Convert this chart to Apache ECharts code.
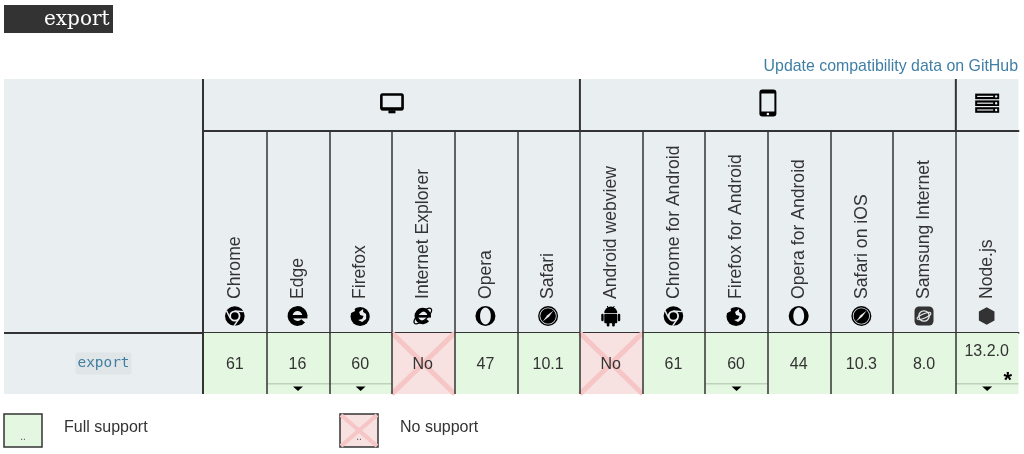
<!DOCTYPE html>
<html>
<head>
<meta charset="utf-8">
<style>html,body{margin:0;padding:0;background:#fff}#main{width:1024px;height:454px}</style>
<script src="https://cdn.jsdelivr.net/npm/echarts@6/dist/echarts.min.js"></script>
</head>
<body>
<div id="main"></div>
<script>
let browsers = ['Chrome', 'Edge', 'Firefox', 'Internet Explorer', 'Opera', 'Safari',
    'Android webview', 'Chrome for Android', 'Firefox for Android', 'Opera for Android',
    'Safari on iOS', 'Samsung Internet', 'Node.js'];
let browserIcons = ['chrome', 'edge', 'firefox', 'ie', 'opera', 'safari',
    'android', 'chrome', 'firefox', 'opera', 'safari', 'samsung', 'node'];
let versions = ['61', '16', '60', 'No', '47', '10.1', 'No', '61', '60', '44', '10.3', '8.0', '13.2.0'];
let hasDetails = [0, 1, 1, 0, 0, 0, 0, 0, 1, 0, 0, 0, 1];
let hasNote = [0, 0, 0, 0, 0, 0, 0, 0, 0, 0, 0, 0, 1];
let platformStart = [0, 6, 12];
let platformEnd = [6, 12, 13];
let platformIcons = ['desktop', 'phone', 'server'];
let featureName = ['export'];
let legendTexts = ['Full support', 'No support'];

let FONT = '"Liberation Sans", Arial, sans-serif';
let INK = '#000';
let LINE = '#333';
let HEAD_BG = '#e9eef1';
let GREEN = '#e4f8e1';
let RED = '#f8e1e1';
let CROSS = '#f6c5c5';

function eShape(r, lw, bar) {
    return [
        {type: 'arc', shape: {cx: 0, cy: 0, r: r, startAngle: 0.7, endAngle: Math.PI * 2, clockwise: true},
            style: {stroke: INK, fill: null, lineWidth: lw}},
        {type: 'rect', shape: {x: -r, y: -1, width: r * 2 + lw / 2, height: bar}, style: {fill: INK}}
    ];
}

function makeIcon(name) {
    let c = [];
    let fill = function (col) { return {fill: col}; };
    let lineSt = function (w) { return {stroke: HEAD_BG, fill: null, lineWidth: w}; };
    if (name === 'chrome') {
        c.push({type: 'circle', shape: {cx: 0, cy: 0, r: 9.8}, style: fill(INK)});
        c.push({type: 'ring', shape: {cx: 0, cy: 0, r: 5.6, r0: 3.8}, style: fill(HEAD_BG)});
        c.push({type: 'line', shape: {x1: 0, y1: -5, x2: 9, y2: -4.4}, style: lineSt(1.4)});
        c.push({type: 'line', shape: {x1: 4.6, y1: 2.2, x2: -0.8, y2: 9.8}, style: lineSt(1.4)});
        c.push({type: 'line', shape: {x1: -4.6, y1: 2.2, x2: -8.4, y2: -5.4}, style: lineSt(1.4)});
    } else if (name === 'edge') {
        c = eShape(7.4, 5, 3.4);
    } else if (name === 'firefox') {
        c.push({type: 'circle', shape: {cx: 0, cy: 0.5, r: 9.6}, style: fill(INK)});
        c.push({type: 'polygon', shape: {points: [[-1, -4], [3, -7], [3, -4], [6, -2], [6, 3], [2, 6], [-2, 4], [2, 3], [3.5, 0], [0, -1]]}, style: fill(HEAD_BG)});
        c.push({type: 'polygon', shape: {points: [[-10, -9], [-6, -9], [-5, -5], [-9, -3]]}, style: fill(HEAD_BG)});
    } else if (name === 'ie') {
        c = eShape(6.4, 3.6, 2.6);
        c.push({type: 'ellipse', shape: {cx: 0, cy: 0, rx: 11, ry: 4.2}, rotation: 0.7,
            style: {stroke: INK, fill: null, lineWidth: 1.2}});
    } else if (name === 'opera') {
        c.push({type: 'circle', shape: {cx: 0, cy: 0, r: 10}, style: fill(INK)});
        c.push({type: 'ellipse', shape: {cx: 0, cy: 0, rx: 5.4, ry: 8.4}, style: fill(HEAD_BG)});
    } else if (name === 'safari') {
        c.push({type: 'circle', shape: {cx: 0, cy: 0, r: 10}, style: fill(INK)});
        c.push({type: 'ring', shape: {cx: 0, cy: 0, r: 8.6, r0: 7.8}, style: fill(HEAD_BG)});
        c.push({type: 'polygon', shape: {points: [[5.4, -5.4], [0.8, 0.8], [-5.4, 5.4], [-0.8, -0.8]]}, style: fill(HEAD_BG)});
    } else if (name === 'android') {
        c.push({type: 'sector', shape: {cx: 0, cy: -3, r: 6.5, r0: 0, startAngle: Math.PI, endAngle: Math.PI * 2}, style: fill(INK)});
        c.push({type: 'line', shape: {x1: -3.5, y1: -10, x2: -2, y2: -7}, style: {stroke: INK, lineWidth: 1}});
        c.push({type: 'line', shape: {x1: 3.5, y1: -10, x2: 2, y2: -7}, style: {stroke: INK, lineWidth: 1}});
        c.push({type: 'rect', shape: {x: -6.5, y: -2.2, width: 13, height: 9.5, r: 1}, style: fill(INK)});
        c.push({type: 'rect', shape: {x: -9.5, y: -2.2, width: 2.4, height: 7.5, r: 1.2}, style: fill(INK)});
        c.push({type: 'rect', shape: {x: 7.1, y: -2.2, width: 2.4, height: 7.5, r: 1.2}, style: fill(INK)});
        c.push({type: 'rect', shape: {x: -4, y: 6, width: 2.6, height: 4.5, r: 1.2}, style: fill(INK)});
        c.push({type: 'rect', shape: {x: 1.4, y: 6, width: 2.6, height: 4.5, r: 1.2}, style: fill(INK)});
    } else if (name === 'samsung') {
        c.push({type: 'rect', shape: {x: -9.5, y: -9.5, width: 19, height: 19, r: 4.5}, style: fill('#333')});
        c.push({type: 'circle', shape: {cx: 0, cy: 0, r: 5.2}, style: {stroke: HEAD_BG, fill: null, lineWidth: 1.3}});
        c.push({type: 'ellipse', shape: {cx: 0, cy: 0, rx: 7.4, ry: 2.2}, rotation: 0.4, style: {stroke: HEAD_BG, fill: null, lineWidth: 1.1}});
    } else if (name === 'node') {
        c.push({type: 'polygon', shape: {points: [[0, -8.8], [7.8, -4.4], [7.8, 4.4], [0, 8.8], [-7.8, 4.4], [-7.8, -4.4]]}, style: fill('#333')});
    } else if (name === 'desktop') {
        c.push({type: 'rect', shape: {x: -10.6, y: -8.5, width: 21.2, height: 14.6, r: 1.2}, style: {stroke: INK, fill: null, lineWidth: 2.6}});
        c.push({type: 'rect', shape: {x: -11, y: 4.3, width: 22, height: 3}, style: fill(INK)});
        c.push({type: 'rect', shape: {x: -3.5, y: 7.3, width: 7, height: 3}, style: fill(INK)});
    } else if (name === 'phone') {
        c.push({type: 'rect', shape: {x: -8.5, y: -13.5, width: 17, height: 27, r: 3}, style: fill(INK)});
        c.push({type: 'rect', shape: {x: -6.5, y: -9.5, width: 13, height: 18}, style: fill(HEAD_BG)});
        c.push({type: 'circle', shape: {cx: 0, cy: 11, r: 1.3}, style: fill(HEAD_BG)});
    } else if (name === 'server') {
        [-9.4, -2.6, 4.2].forEach(function (y) {
            c.push({type: 'rect', shape: {x: -12, y: y, width: 24, height: 5.6}, style: fill(INK)});
            c.push({type: 'rect', shape: {x: -10, y: y + 2.2, width: 16, height: 1.2}, style: fill(HEAD_BG)});
            c.push({type: 'circle', shape: {cx: 9, cy: y + 2.8, r: 1.2}, style: fill(HEAD_BG)});
        });
    }
    return c;
}

function renderPlatform(params, api) {
    let i = params.dataIndex;
    let start = api.coord([api.value(0), 0]);
    let end = api.coord([api.value(1), 0]);
    let children = [{type: 'group', x: (start[0] + end[0]) / 2, y: 103, children: makeIcon(platformIcons[i])}];
    if (i > 0) {
        children.push({type: 'line', shape: {x1: start[0], y1: 79, x2: start[0], y2: 131}, style: {stroke: LINE, lineWidth: 2}});
    }
    return {type: 'group', children: children};
}

function renderIcon(params, api) {
    let p = api.coord([api.value(0), 0]);
    let h = api.size([0, 1])[1];
    return {type: 'group', x: p[0] - 0.5, y: p[1] + h / 2 - 17, children: makeIcon(browserIcons[params.dataIndex])};
}

function renderCell(params, api) {
    let i = params.dataIndex;
    let p = api.coord([api.value(0), 0]);
    let size = api.size([1, 1]);
    let x0 = p[0] - size[0] / 2;
    let y0 = p[1] - size[1] / 2;
    let isNo = versions[i] === 'No';
    let children = [{type: 'rect', shape: {x: x0, y: y0, width: size[0], height: size[1]}, style: {fill: isNo ? RED : GREEN}}];
    if (isNo) {
        children.push({type: 'line', shape: {x1: x0, y1: y0, x2: x0 + size[0], y2: y0 + size[1]}, style: {stroke: CROSS, lineWidth: 5}});
        children.push({type: 'line', shape: {x1: x0, y1: y0 + size[1], x2: x0 + size[0], y2: y0}, style: {stroke: CROSS, lineWidth: 5}});
    }
    if (hasDetails[i]) {
        children.push({type: 'rect', shape: {x: x0, y: y0 + 50, width: size[0], height: 1.5}, style: {fill: '#bcd3b8'}});
        children.push({type: 'polygon', shape: {points: [[p[0] - 5, y0 + 53.5], [p[0] + 5, y0 + 53.5], [p[0], y0 + 58]]}, style: {fill: INK}});
    }
    children.push({type: 'text', x: p[0] - 0.5, y: y0 + (hasNote[i] ? 18.5 : 31.5),
        style: {text: versions[i], fill: LINE, font: '16px ' + FONT, textAlign: 'center', textVerticalAlign: 'middle'}});
    if (hasNote[i]) {
        children.push({type: 'text', x: p[0] + 20.5, y: y0 + 47.5,
            style: {text: '*', fill: INK, font: 'bold 22px "Liberation Sans"', textAlign: 'center', textVerticalAlign: 'middle'}});
    }
    return {type: 'group', children: children};
}

function legendItem(x, isNo, label) {
    let items = [{type: 'rect', shape: {x: x, y: 414, width: 38, height: 33}, style: {fill: isNo ? RED : GREEN, stroke: LINE, lineWidth: 1.5}, z: 5}];
    if (isNo) {
        items.push({type: 'line', shape: {x1: x + 1, y1: 415, x2: x + 37, y2: 446}, style: {stroke: CROSS, lineWidth: 4}, z: 6});
        items.push({type: 'line', shape: {x1: x + 1, y1: 446, x2: x + 37, y2: 415}, style: {stroke: CROSS, lineWidth: 4}, z: 6});
    }
    items.push({type: 'text', x: x + 19, y: 437, style: {text: '..', fill: '#555', font: '10px ' + FONT, textAlign: 'center', textVerticalAlign: 'middle'}, z: 7});
    items.push({type: 'text', x: x + 60, y: 427.5, style: {text: label, fill: LINE, font: '16px ' + FONT, textVerticalAlign: 'middle'}, z: 7});
    return items;
}

let gridLeft = 204;
let gridWidth = 814.5;

let option = {
    animation: false,
    backgroundColor: '#fff',
    textStyle: {fontFamily: FONT},
    grid: [
        {left: gridLeft, width: gridWidth, top: 79, height: 52, show: true, backgroundColor: HEAD_BG, borderWidth: 0},
        {left: gridLeft, width: gridWidth, top: 131, height: 202, show: true, backgroundColor: HEAD_BG, borderWidth: 0},
        {left: gridLeft, width: gridWidth, top: 333, height: 61, show: false}
    ],
    xAxis: [
        {type: 'value', gridIndex: 0, min: 0, max: 13, axisLabel: {show: false}, axisTick: {show: false},
            splitLine: {show: false}, axisLine: {show: true, onZero: false, lineStyle: {color: LINE, width: 2}}},
        {type: 'category', gridIndex: 1, data: browsers, axisTick: {show: false},
            axisLine: {show: true, onZero: false, lineStyle: {color: LINE, width: 2}},
            splitLine: {show: true, showMinLine: false, showMaxLine: false, interval: 0, lineStyle: {color: LINE, width: 1.5}},
            axisLabel: {interval: 0, rotate: 90, inside: true, margin: 34, fontSize: 17.6, color: LINE, fontFamily: FONT, hideOverlap: false}},
        {type: 'category', gridIndex: 2, data: browsers, z: 4, axisTick: {show: false}, axisLine: {show: false}, axisLabel: {show: false},
            splitLine: {show: true, showMinLine: false, showMaxLine: false, interval: 0, lineStyle: {color: LINE, width: 1.5}}}
    ],
    yAxis: [
        {type: 'category', gridIndex: 0, data: ['platforms'], show: false},
        {type: 'category', gridIndex: 1, data: ['browsers'], show: false},
        {type: 'category', gridIndex: 2, data: featureName, axisLine: {show: false}, axisTick: {show: false},
            axisLabel: {margin: 72.5, color: '#3f7fa0', fontSize: 14.4, lineHeight: 20, fontFamily: '"DejaVu Sans Mono", monospace',
                backgroundColor: '#e0e5e8', padding: [2, 2, 0, 2], borderRadius: 2}}
    ],
    graphic: [
        {type: 'rect', shape: {x: 4, y: 5, width: 109, height: 28}, style: {fill: '#333'}, z: 5},
        {type: 'text', x: 44, y: 20, style: {text: 'export', fill: '#fff', font: '20px "DejaVu Serif", serif', textVerticalAlign: 'middle'}, z: 6},
        {type: 'text', x: 1018, y: 67, style: {text: 'Update compatibility data on GitHub', fill: '#3f7fa6', font: '15.9px ' + FONT, textAlign: 'right', textVerticalAlign: 'middle'}, z: 6},
        {type: 'rect', shape: {x: 4, y: 79, width: 200, height: 315}, style: {fill: HEAD_BG}, z: -1},
        {type: 'line', shape: {x1: 4, y1: 333, x2: 204, y2: 333}, style: {stroke: LINE, lineWidth: 2}, z: 5},
        {type: 'rect', shape: {x: 202, y: 79, width: 2, height: 315}, style: {fill: LINE}, z: 5}
    ].concat(legendItem(4, false, legendTexts[0]), legendItem(340, true, legendTexts[1])),
    series: [
        {type: 'custom', coordinateSystem: 'cartesian2d', xAxisIndex: 0, yAxisIndex: 0, silent: true,
            data: platformStart.map(function (s, i) { return [s, platformEnd[i]]; }),
            encode: {x: [0, 1]}, renderItem: renderPlatform},
        {type: 'custom', coordinateSystem: 'cartesian2d', xAxisIndex: 1, yAxisIndex: 1, silent: true,
            data: browsers.map(function (b, i) { return [i]; }), encode: {x: 0}, renderItem: renderIcon},
        {type: 'custom', coordinateSystem: 'cartesian2d', xAxisIndex: 2, yAxisIndex: 2, silent: true, z: 1,
            data: versions.map(function (v, i) { return [i]; }), encode: {x: 0}, renderItem: renderCell}
    ]
};

let myChart = echarts.init(document.getElementById('main'));
myChart.setOption(option);
</script>
</body>
</html>
